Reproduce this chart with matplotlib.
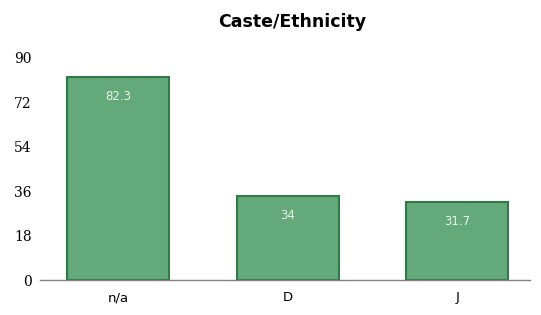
import numpy as np
import matplotlib.pyplot as plt

categories = ['n/a', 'D', 'J']
values = [82.3, 34, 31.7]
yticks = [0, 18, 36, 54, 72, 90]

fig = plt.figure(figsize=(5.41, 3.15), dpi=100)
ax = fig.add_axes([0.074, 0.111, 0.906, 0.705])

x = np.arange(len(categories))
bars = ax.bar(x, values, width=0.6, color='#64a97a', edgecolor='#2f7a48', linewidth=1.5)

for b, v in zip(bars, values):
    ax.text(b.get_x() + b.get_width() / 2, v - 8, f'{v:g}', ha='center', va='center',
            color='#e8f2ea', fontsize=8.5)

ax.set_xlim(-0.46, 2.43)
ax.set_ylim(0, 90)
ax.set_xticks(x)
ax.set_xticklabels(categories, fontsize=9.5, family='DejaVu Sans')
ax.set_yticks(yticks)
ax.set_yticklabels([str(t) for t in yticks], fontsize=10, family='DejaVu Serif')
ax.tick_params(axis='both', length=0, pad=8)
ax.tick_params(axis='y', pad=6)

for s in ['top', 'right', 'left']:
    ax.spines[s].set_visible(False)
ax.spines['bottom'].set_color('#8a7f86')
ax.spines['bottom'].set_linewidth(1)

fig.text(0.54, 0.93, 'Caste/Ethnicity', ha='center', va='center', fontsize=12.5, fontweight='bold')

fig.savefig('out.png', dpi=100)
